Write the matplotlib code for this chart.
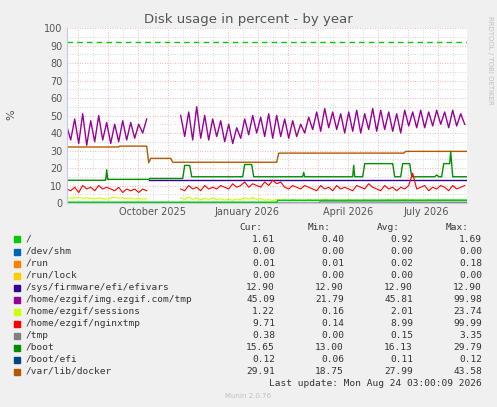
import numpy as np
import matplotlib
matplotlib.use("Agg")
import matplotlib.pyplot as plt

W, H = 497, 407
purple1 = [44,36,48,34,51,33,47,35,50,36,46,34,45,35,47,36,46,37,45,40,48]
purple2 = [50,38,52,36,55,37,50,36,48,38,47,35,45,34,43,37,48,39,50,40,49,38,51,37,
           50,38,48,37,47,38,45,40,49,42,52,41,54,43,52,42,51,40,52,41,53,40,51,42,
           54,41,53,42,52,41,51,40,53,44,52,43,53,43,52,44,53,45,52,43,53,44,51,45]
red1 = [8,7,9,6,10,8,9,7,10,8,9,8,7,9,6,8,7,8,6,8,7]
red2 = [8,7,10,8,9,7,10,8,9,8,10,9,8,11,9,10,12,9,11,10,9,12,10,13,11,12,9,8,10,9,
        8,10,9,8,7,10,8,9,7,10,8,9,8,7,10,9,8,11,9,8,7,10,8,9,7,9,8,10,17,8,9,10,
        7,9,8,10,9,7,10,8,9,10]
yellow1 = [2.5,3,2.8,3.2,2.6,3,2.7,2.4,3,2.6,2.2,2.8,3.4,2.7,3.1,2.5,2.9,2.3,2.6,2.2,2.4]
yellow2 = [3,2,3.5,2,3,1.8,2.6,2,3,1.8,2.5,1.6,2.2,1.5,2.4,1.8,3,2.2,3.2,2,2.6,1.5,2,1.4,
           2.2,1.3,1.8,1.2,2,1.4,1.6,1.2,2,1.3,1.7,1.2,2.2,1.4,1.8,1.2,1.6,1.1,2,1.3,
           1.7,1.2,1.9,1.3,1.6,1.2,1.8,1.4,2,1.5,1.8,1.6,2.2,1.5,1.8,1.3,1.7,1.4,2,1.5,
           1.8,1.4,1.6,1.3,1.8,1.4,1.5,1.2]
root_x = [0, 210, 211, 400]
root_y = [0.4, 0.4, 1.5, 1.6]
tmp_x = [0, 252, 253, 400]
tmp_y = [0.0, 0.0, 0.6, 0.4]
efi_x = [82, 400]
efi_y = [12.9, 12.9]
docker_x = [0, 52, 53, 80, 82, 84, 104, 106, 210, 212, 337, 339, 400]
docker_y = [32, 32, 32.5, 32.5, 23, 25.5, 25.5, 23.3, 23.3, 28.5, 28.5, 29.5, 29.5]
boot_x = [0, 39, 40, 41, 82, 83, 116, 118, 123, 125, 176, 178, 185, 187, 236, 237, 238,
          286, 287, 288, 296, 298, 326, 328, 334, 336, 343, 345, 368, 370, 372, 375, 377,
          383, 384, 386, 400]
boot_y = [13, 13, 19, 13.5, 13.5, 14, 14, 21.5, 21.5, 15, 15, 22, 22, 15, 15, 17.5, 15,
          15, 21.5, 15, 15, 22.5, 22.5, 15, 15, 22.5, 22.5, 15, 15, 16, 15, 15, 22.5,
          22.5, 29.5, 15, 15]
warn_level = 92

legend_names = ["/", "/dev/shm", "/run", "/run/lock", "/sys/firmware/efi/efivars",
                "/home/ezgif/img.ezgif.com/tmp", "/home/ezgif/sessions",
                "/home/ezgif/nginxtmp", "/tmp", "/boot", "/boot/efi", "/var/lib/docker"]
legend_colors = ["#00CC00", "#0066B3", "#FF8000", "#FFCC00", "#330099", "#990099",
                 "#CCFF00", "#FF0000", "#808080", "#008F00", "#00487D", "#B35A00"]
cur = ["1.61","0.00","0.01","0.00","12.90","45.09","1.22","9.71","0.38","15.65","0.12","29.91"]
mn = ["0.40","0.00","0.01","0.00","12.90","21.79","0.16","0.14","0.00","13.00","0.06","18.75"]
avg = ["0.92","0.00","0.02","0.00","12.90","45.81","2.01","8.99","0.15","16.13","0.11","27.99"]
mx = ["1.69","0.00","0.18","0.00","12.90","99.98","23.74","99.99","3.35","29.79","0.12","43.58"]
tick_pos = [86, 180, 281, 360]
tick_labels = ["October 2025", "January 2026", "April 2026", "July 2026"]

fig = plt.figure(figsize=(W/100, H/100), dpi=100, facecolor="#F0F0F0")
ax = fig.add_axes([66.7/W, 1-203/H, 400/W, 175/H], facecolor="white")
ax.set_xlim(0, 400)
ax.set_ylim(0, 100)

for y in range(5, 100, 10):
    ax.axhline(y, color="#C8C8C8", lw=0.6, ls=(0, (1, 2)), zorder=0)
for y in range(10, 101, 10):
    ax.axhline(y, color="#F0A0A0", lw=0.6, ls=(0, (1, 2)), zorder=0)
for x in np.arange(11, 400, 30):
    ax.axvline(x, color="#F0A0A0", lw=0.6, ls=(0, (1, 2)), zorder=0)
for x in np.arange(26, 400, 30):
    ax.axvline(x, color="#D0D0D0", lw=0.6, ls=(0, (1, 2)), zorder=0)

c = dict(zip(legend_names, legend_colors))
ax.plot(docker_x, docker_y, color=c["/var/lib/docker"], lw=1)
ax.plot(boot_x, boot_y, color=c["/boot"], lw=1)
ax.plot(efi_x, efi_y, color=c["/sys/firmware/efi/efivars"], lw=1)
ax.plot(4*np.arange(len(purple1)), purple1, color=c["/home/ezgif/img.ezgif.com/tmp"], lw=1)
ax.plot(114+4*np.arange(len(purple2)), purple2, color=c["/home/ezgif/img.ezgif.com/tmp"], lw=1)
ax.plot(4*np.arange(len(red1)), red1, color=c["/home/ezgif/nginxtmp"], lw=0.8)
ax.plot(114+4*np.arange(len(red2)), red2, color=c["/home/ezgif/nginxtmp"], lw=0.8)
ax.plot(4*np.arange(len(yellow1)), yellow1, color=c["/home/ezgif/sessions"], lw=0.8)
ax.plot(114+4*np.arange(len(yellow2)), yellow2, color=c["/home/ezgif/sessions"], lw=0.8)
ax.plot(tmp_x, tmp_y, color=c["/tmp"], lw=1)
ax.plot(root_x, root_y, color=c["/"], lw=1.2)
ax.axhline(warn_level, color="#00CC00", lw=1, ls=(0, (4, 3)))

ax.set_yticks(range(0, 101, 10))
ax.set_xticks(tick_pos)
ax.set_xticklabels(tick_labels)
ax.tick_params(labelsize=7, colors="#555555", length=0, pad=3)
for s in ["top", "right"]:
    ax.spines[s].set_visible(False)
ax.spines["left"].set_color("#C8C8F0")
ax.spines["bottom"].set_color("#C8C8F0")

def T(px, py, s, **kw):
    fig.text(px/W, 1-py/H, s, **kw)

T(11, 115, "%", ha="center", va="center", rotation=90, fontsize=8, color="#555555")
T(248, 19, "Disk usage in percent - by year", ha="center", va="center", fontsize=9.5, color="#555555")
T(490, 60, "RRDTOOL / TOBI OETIKER", ha="center", va="center", rotation=270, fontsize=5, color="#C0C0C0")
mono = dict(family="DejaVu Sans Mono", fontsize=6.8, color="#333333", va="center")
T(262, 227, "Cur:", ha="right", **mono)
T(331, 227, "Min:", ha="right", **mono)
T(400, 227, "Avg:", ha="right", **mono)
T(469, 227, "Max:", ha="right", **mono)
for i, name in enumerate(legend_names):
    py = 239.5 + 12*i
    fig.patches.append(plt.Rectangle((14/W, 1-(py+3)/H), 6/W, 6/H, transform=fig.transFigure,
                                     color=legend_colors[i]))
    T(26, py, name, ha="left", **mono)
    T(275, py, cur[i], ha="right", **mono)
    T(344, py, mn[i], ha="right", **mono)
    T(413, py, avg[i], ha="right", **mono)
    T(482, py, mx[i], ha="right", **mono)
T(482, 383.5, "Last update: Mon Aug 24 03:00:09 2026", ha="right", **mono)
T(248, 396, "Munin 2.0.76", ha="center", va="center", fontsize=5, color="#C0C0C0")

fig.savefig("out.png", dpi=100, facecolor=fig.get_facecolor())
